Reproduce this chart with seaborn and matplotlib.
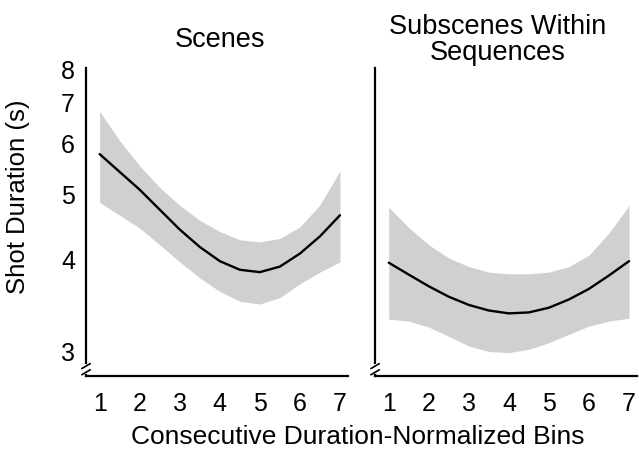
import numpy as np
import matplotlib
matplotlib.use("Agg")
import matplotlib.pyplot as plt
import seaborn as sns

# bins (read at half steps off the chart)
bins = [1, 1.5, 2, 2.5, 3, 3.5, 4, 4.5, 5, 5.5, 6, 6.5, 7]

# Scenes panel: fitted shot duration and its band
scenes_mean = [5.75, 5.39, 5.06, 4.72, 4.41, 4.16, 3.97, 3.86, 3.83, 3.90, 4.07, 4.31, 4.63]
scenes_upper = [6.75, 6.04, 5.51, 5.10, 4.79, 4.55, 4.38, 4.26, 4.23, 4.28, 4.45, 4.80, 5.41]
scenes_lower = [4.84, 4.63, 4.43, 4.19, 3.96, 3.76, 3.60, 3.49, 3.46, 3.53, 3.69, 3.83, 3.96]

# Subscenes within sequences panel
sub_mean = [3.95, 3.80, 3.66, 3.54, 3.45, 3.39, 3.36, 3.37, 3.42, 3.51, 3.63, 3.79, 3.97]
sub_upper = [4.76, 4.44, 4.19, 4.01, 3.90, 3.83, 3.81, 3.81, 3.83, 3.90, 4.05, 4.36, 4.79]
sub_lower = [3.30, 3.28, 3.22, 3.13, 3.04, 2.99, 2.98, 3.01, 3.07, 3.15, 3.23, 3.28, 3.31]

titles = ["Scenes", "Subscenes Within\nSequences"]
x_ticks = [1, 2, 3, 4, 5, 6, 7]
y_ticks = [3, 4, 5, 6, 7, 8]

sns.set_style("white")
plt.rcParams['font.family'] = ['Liberation Sans', 'DejaVu Sans']
plt.rcParams['text.color'] = 'black'
plt.rcParams['xtick.color'] = 'black'
plt.rcParams['ytick.color'] = 'black'


# power transform for the y axis (y ** -0.3, flipped so it increases)
def fwd(y):
    return -np.power(np.clip(y, 1e-6, None), -0.3)


def inv(t):
    return np.power(np.clip(-t, 1e-6, None), -1 / 0.3)


fig = plt.figure(figsize=(6.39, 4.52), dpi=100)
ax1 = fig.add_axes([0.1346, 0.166, 0.41, 0.681])
ax2 = fig.add_axes([0.587, 0.166, 0.41, 0.681])

panels = [
    (ax1, scenes_mean, scenes_upper, scenes_lower),
    (ax2, sub_mean, sub_upper, sub_lower),
]

for i, (ax, mean, upper, lower) in enumerate(panels):
    ax.fill_between(bins, lower, upper, color="#d0d0d0", linewidth=0)
    sns.lineplot(x=bins, y=mean, ax=ax, color="black", linewidth=1.7,
                 solid_joinstyle="round")
    ax.set_yscale("function", functions=(fwd, inv))
    ax.set_ylim(2.78, 8)
    ax.set_xlim(0.66, 7.2)
    ax.set_xticks(x_ticks)
    ax.set_yticks(y_ticks)
    ax.yaxis.set_minor_locator(matplotlib.ticker.NullLocator())
    ax.tick_params(axis="both", length=0, labelsize=18, labelcolor="black")
    ax.tick_params(axis="x", pad=11)
    ax.tick_params(axis="y", pad=8)
    if i == 1:
        ax.set_yticklabels([])
    for side in ["top", "right"]:
        ax.spines[side].set_visible(False)
    for side in ["left", "bottom"]:
        ax.spines[side].set_linewidth(1.6)
        ax.spines[side].set_color("black")
    ax.set_xlabel("")
    ax.set_ylabel("")

    # axis break marks near the bottom of the y axis
    ax.plot([0, 0], [0.012, 0.032], transform=ax.transAxes, color="white",
            linewidth=3, clip_on=False, zorder=5)
    for yb in [0.012, 0.032]:
        ax.plot([-0.016, 0.016], [yb - 0.008, yb + 0.008], transform=ax.transAxes,
                color="black", linewidth=1.2, clip_on=False, zorder=6)

# titles above each panel
fig.text(220 / 639, 1 - 40 / 452, titles[0], ha="center", va="center", fontsize=19.5)
fig.text(498 / 639, 1 - 40 / 452, titles[1], ha="center", va="center", fontsize=19.5,
         linespacing=1.05)

fig.text(18 / 639, 1 - 197 / 452, "Shot Duration (s)", rotation=90,
         ha="center", va="center", fontsize=18.5)
fig.text(358 / 639, 1 - 437 / 452, "Consecutive Duration-Normalized Bins",
         ha="center", va="center", fontsize=19)

fig.savefig("out.png", dpi=100, facecolor="white")
